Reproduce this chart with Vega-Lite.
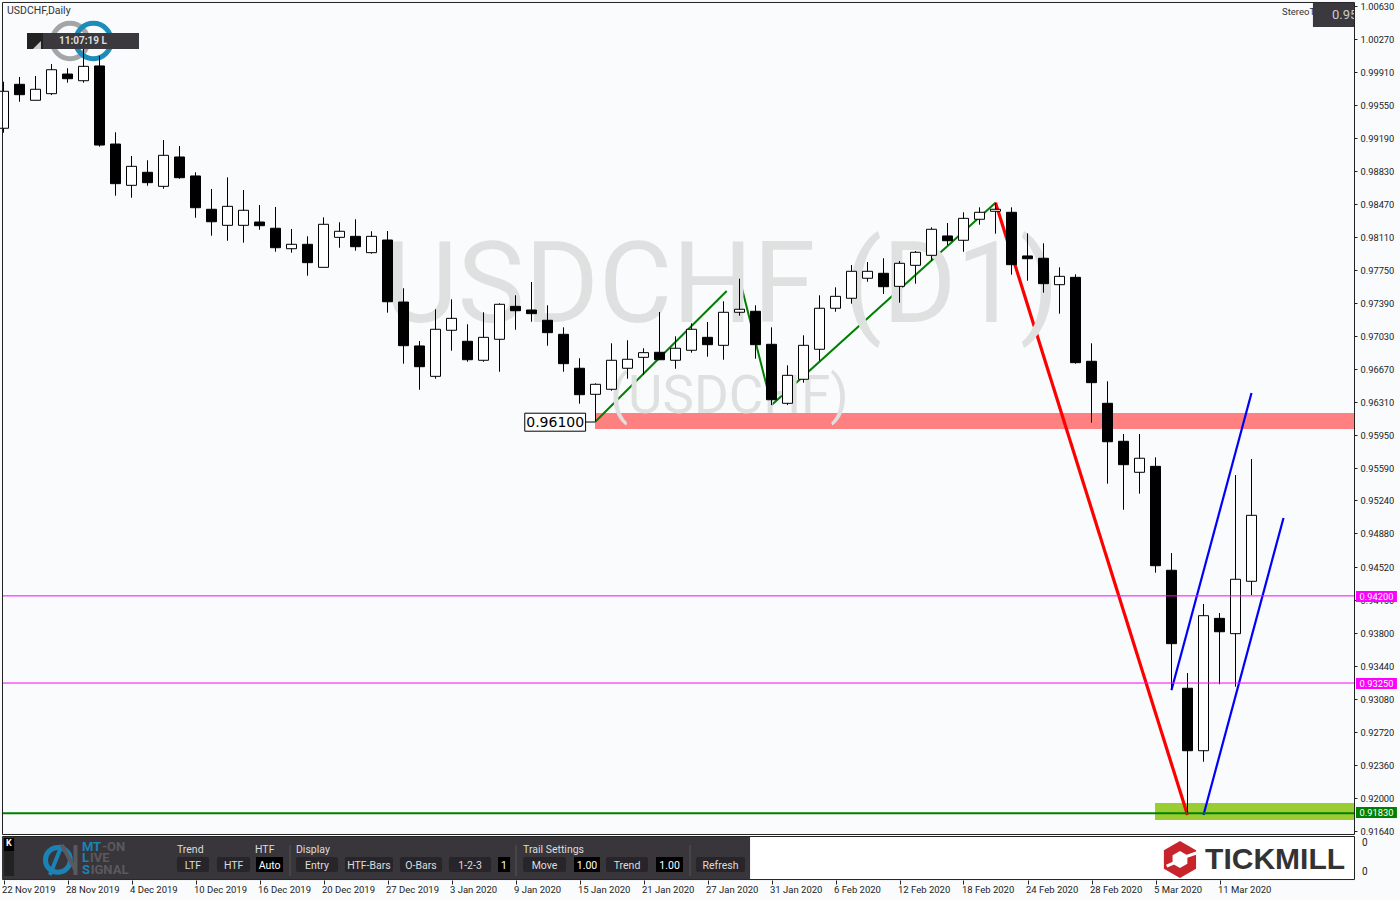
{"$schema":"https://vega.github.io/schema/vega-lite/v6.json","width":1400,"height":900,"padding":0,"autosize":{"type":"none"},"background":"#F9FBFD","config":{"view":{"stroke":null},"text":{"font":"Roboto"},"axis":{"title":null}},
"datasets":{"one":[{}],
"zones":[{"zone":"resistance","from":36.97,"to":84.41,"top":0.96193,"bottom":0.96019},{"zone":"support","from":71.97,"to":84.41,"top":0.91942,"bottom":0.91757}],
"swings":[{"leg":"g1","kind":"up","i":37,"price":0.961},{"leg":"g1","kind":"up","i":45.2,"price":0.97523},{"leg":"g2","kind":"up","i":46,"price":0.97657},{"leg":"g2","kind":"up","i":48,"price":0.9628},{"leg":"g2","kind":"up","i":62,"price":0.98486},{"leg":"r","kind":"down","i":62,"price":0.98486},{"leg":"r","kind":"down","i":74,"price":0.91812},{"leg":"b1","kind":"channel","i":73,"price":0.93174},{"leg":"b1","kind":"channel","i":78,"price":0.96411},{"leg":"b2","kind":"channel","i":75,"price":0.91812},{"leg":"b2","kind":"channel","i":80,"price":0.95049}],
"candles":[
{"i":0,"date":"2019-11-22","open":0.99297,"high":0.99804,"low":0.99249,"close":0.997},
{"i":1,"date":"2019-11-25","open":0.99776,"high":0.99856,"low":0.99586,"close":0.99663},
{"i":2,"date":"2019-11-26","open":0.99602,"high":0.99867,"low":0.99602,"close":0.99722},
{"i":3,"date":"2019-11-27","open":0.99674,"high":0.99997,"low":0.99659,"close":0.99935},
{"i":4,"date":"2019-11-28","open":0.99888,"high":0.99951,"low":0.99794,"close":0.99837},
{"i":5,"date":"2019-11-29","open":0.99815,"high":1.00204,"low":0.99794,"close":0.99972},
{"i":6,"date":"2019-12-02","open":0.99976,"high":1.00085,"low":0.99096,"close":0.99114},
{"i":7,"date":"2019-12-03","open":0.99125,"high":0.99253,"low":0.98562,"close":0.98693},
{"i":8,"date":"2019-12-04","open":0.98675,"high":0.98995,"low":0.9854,"close":0.98882},
{"i":9,"date":"2019-12-05","open":0.98817,"high":0.98948,"low":0.98671,"close":0.98704},
{"i":10,"date":"2019-12-06","open":0.98664,"high":0.99169,"low":0.98638,"close":0.99002},
{"i":11,"date":"2019-12-09","open":0.98984,"high":0.99104,"low":0.98747,"close":0.98758},
{"i":12,"date":"2019-12-10","open":0.98777,"high":0.98817,"low":0.98322,"close":0.98431},
{"i":13,"date":"2019-12-11","open":0.98414,"high":0.98635,"low":0.98126,"close":0.98278},
{"i":14,"date":"2019-12-12","open":0.98239,"high":0.98762,"low":0.98071,"close":0.98446},
{"i":15,"date":"2019-12-13","open":0.98239,"high":0.98624,"low":0.9805,"close":0.98403},
{"i":16,"date":"2019-12-16","open":0.98275,"high":0.9846,"low":0.98191,"close":0.98235},
{"i":17,"date":"2019-12-17","open":0.98207,"high":0.98439,"low":0.97951,"close":0.97995},
{"i":18,"date":"2019-12-18","open":0.97984,"high":0.98199,"low":0.97941,"close":0.98032},
{"i":19,"date":"2019-12-19","open":0.98032,"high":0.98119,"low":0.9769,"close":0.97832},
{"i":20,"date":"2019-12-20","open":0.97781,"high":0.98326,"low":0.97781,"close":0.9825},
{"i":21,"date":"2019-12-23","open":0.98108,"high":0.98272,"low":0.97995,"close":0.98174},
{"i":22,"date":"2019-12-24","open":0.98119,"high":0.98305,"low":0.97962,"close":0.98006},
{"i":23,"date":"2019-12-26","open":0.97941,"high":0.98174,"low":0.9793,"close":0.98119},
{"i":24,"date":"2019-12-27","open":0.98079,"high":0.98177,"low":0.97287,"close":0.97406},
{"i":25,"date":"2019-12-30","open":0.97403,"high":0.97553,"low":0.96731,"close":0.96927},
{"i":26,"date":"2019-12-31","open":0.96924,"high":0.96978,"low":0.96447,"close":0.96698},
{"i":27,"date":"2020-01-02","open":0.96593,"high":0.97324,"low":0.96567,"close":0.97106},
{"i":28,"date":"2020-01-03","open":0.97095,"high":0.97433,"low":0.96872,"close":0.97225},
{"i":29,"date":"2020-01-06","open":0.96975,"high":0.9716,"low":0.96752,"close":0.96774},
{"i":30,"date":"2020-01-07","open":0.96768,"high":0.97291,"low":0.96752,"close":0.97018},
{"i":31,"date":"2020-01-08","open":0.96997,"high":0.97389,"low":0.96643,"close":0.97378},
{"i":32,"date":"2020-01-09","open":0.97356,"high":0.97476,"low":0.97101,"close":0.97308},
{"i":33,"date":"2020-01-10","open":0.97316,"high":0.97621,"low":0.97188,"close":0.97276},
{"i":34,"date":"2020-01-13","open":0.97204,"high":0.97367,"low":0.96927,"close":0.97069},
{"i":35,"date":"2020-01-14","open":0.97051,"high":0.97127,"low":0.96643,"close":0.96731},
{"i":36,"date":"2020-01-15","open":0.96681,"high":0.9679,"low":0.96295,"close":0.96393},
{"i":37,"date":"2020-01-16","open":0.96397,"high":0.96517,"low":0.961,"close":0.96506},
{"i":38,"date":"2020-01-17","open":0.96452,"high":0.96953,"low":0.96436,"close":0.96768},
{"i":39,"date":"2020-01-20","open":0.96681,"high":0.96986,"low":0.96567,"close":0.96779},
{"i":40,"date":"2020-01-21","open":0.968,"high":0.96899,"low":0.96607,"close":0.96851},
{"i":41,"date":"2020-01-22","open":0.96855,"high":0.97294,"low":0.96771,"close":0.96774},
{"i":42,"date":"2020-01-23","open":0.96768,"high":0.97029,"low":0.96676,"close":0.96899},
{"i":43,"date":"2020-01-24","open":0.96877,"high":0.97171,"low":0.96851,"close":0.97106},
{"i":44,"date":"2020-01-27","open":0.97018,"high":0.97185,"low":0.96807,"close":0.96938},
{"i":45,"date":"2020-01-28","open":0.96931,"high":0.97411,"low":0.96774,"close":0.97291},
{"i":46,"date":"2020-01-29","open":0.97291,"high":0.97657,"low":0.97254,"close":0.97324},
{"i":47,"date":"2020-01-30","open":0.97302,"high":0.97367,"low":0.96785,"close":0.96938},
{"i":48,"date":"2020-01-31","open":0.96942,"high":0.97127,"low":0.9628,"close":0.96338},
{"i":49,"date":"2020-02-03","open":0.96299,"high":0.96713,"low":0.9628,"close":0.96604},
{"i":50,"date":"2020-02-04","open":0.96561,"high":0.9704,"low":0.96524,"close":0.96931},
{"i":51,"date":"2020-02-05","open":0.96888,"high":0.97476,"low":0.96763,"close":0.97335},
{"i":52,"date":"2020-02-06","open":0.97335,"high":0.97563,"low":0.97297,"close":0.97465},
{"i":53,"date":"2020-02-07","open":0.97444,"high":0.97806,"low":0.97385,"close":0.97738},
{"i":54,"date":"2020-02-10","open":0.97662,"high":0.97839,"low":0.97624,"close":0.97738},
{"i":55,"date":"2020-02-11","open":0.97716,"high":0.9788,"low":0.9749,"close":0.9757},
{"i":56,"date":"2020-02-12","open":0.97574,"high":0.9785,"low":0.97396,"close":0.97825},
{"i":57,"date":"2020-02-13","open":0.97803,"high":0.97959,"low":0.97603,"close":0.97945},
{"i":58,"date":"2020-02-14","open":0.97912,"high":0.98217,"low":0.97853,"close":0.98196},
{"i":59,"date":"2020-02-17","open":0.98123,"high":0.98264,"low":0.98024,"close":0.98071},
{"i":60,"date":"2020-02-18","open":0.98076,"high":0.98381,"low":0.97951,"close":0.98315},
{"i":61,"date":"2020-02-19","open":0.98305,"high":0.98435,"low":0.98246,"close":0.98381},
{"i":62,"date":"2020-02-20","open":0.98392,"high":0.98486,"low":0.98148,"close":0.98414},
{"i":63,"date":"2020-02-21","open":0.98381,"high":0.98435,"low":0.97701,"close":0.9781},
{"i":64,"date":"2020-02-24","open":0.97905,"high":0.98152,"low":0.97635,"close":0.97875},
{"i":65,"date":"2020-02-25","open":0.9788,"high":0.98043,"low":0.97505,"close":0.97603},
{"i":66,"date":"2020-02-26","open":0.97592,"high":0.97781,"low":0.97276,"close":0.97683},
{"i":67,"date":"2020-02-27","open":0.97672,"high":0.97705,"low":0.96731,"close":0.96742},
{"i":68,"date":"2020-02-28","open":0.96757,"high":0.96953,"low":0.96088,"close":0.96524},
{"i":69,"date":"2020-03-02","open":0.96299,"high":0.96539,"low":0.95423,"close":0.9588},
{"i":70,"date":"2020-03-03","open":0.95885,"high":0.95964,"low":0.95139,"close":0.9563},
{"i":71,"date":"2020-03-04","open":0.95547,"high":0.95964,"low":0.95314,"close":0.957},
{"i":72,"date":"2020-03-05","open":0.95612,"high":0.9571,"low":0.94453,"close":0.94529},
{"i":73,"date":"2020-03-06","open":0.94479,"high":0.94667,"low":0.93171,"close":0.93679},
{"i":74,"date":"2020-03-09","open":0.93193,"high":0.93359,"low":0.91825,"close":0.92512},
{"i":75,"date":"2020-03-10","open":0.92512,"high":0.94111,"low":0.92392,"close":0.93984},
{"i":76,"date":"2020-03-11","open":0.93955,"high":0.94013,"low":0.93236,"close":0.93809},
{"i":77,"date":"2020-03-12","open":0.93788,"high":0.95517,"low":0.9321,"close":0.94381},
{"i":78,"date":"2020-03-13","open":0.94359,"high":0.95692,"low":0.94209,"close":0.95078}
]},
"layer":[
{"data":{"name":"one"},"mark":{"type":"rect","fill":"#FFFFFF"},"encoding":{"x":{"datum":-0.06},"x2":{"datum":84.41},"y":{"datum":0.91577},"y2":{"datum":0.91108}}},
{"data":{"name":"one"},"mark":{"type":"point","shape":"circle","size":1257,"filled":false,"stroke":"#A3A5A7","strokeWidth":5,"opacity":1},"encoding":{"x":{"datum":4.16},"y":{"datum":1.00248}}},
{"data":{"name":"one"},"mark":{"type":"point","shape":"circle","size":1257,"filled":false,"stroke":"#1B8DB8","strokeWidth":5,"opacity":1},"encoding":{"x":{"datum":5.62},"y":{"datum":1.00248}}},
{"data":{"name":"zones"},"mark":{"type":"rect"},"encoding":{"x":{"field":"from","type":"quantitative"},"x2":{"field":"to"},"y":{"field":"top","type":"quantitative"},"y2":{"field":"bottom"},"color":{"field":"zone","type":"nominal","legend":null,"scale":{"domain":["resistance","support"],"range":["#FF8080","#9ACD32"]}}}},
{"data":{"name":"swings"},"mark":{"type":"line","interpolate":"linear"},"encoding":{"x":{"field":"i","type":"quantitative"},"y":{"field":"price","type":"quantitative"},"detail":{"field":"leg"},"stroke":{"field":"kind","type":"nominal","legend":null,"scale":{"domain":["up","down","channel"],"range":["#008000","#FF0000","#0000FF"]}},"strokeWidth":{"field":"kind","type":"nominal","legend":null,"scale":{"type":"ordinal","domain":["up","down","channel"],"range":[2,3.2,2.2]}}}},
{"data":{"name":"one"},"mark":{"type":"text","text":"USDCHF (D1)","font":"Roboto","fontSize":113,"align":"left","baseline":"alphabetic","fill":"#DFE1E1"},"encoding":{"x":{"datum":23.8},"y":{"datum":0.97185}}},
{"data":{"name":"one"},"mark":{"type":"text","text":"(USDCHF)","font":"Roboto","fontSize":53,"align":"left","baseline":"alphabetic","fill":"#DFE1E1"},"encoding":{"x":{"datum":37.9},"y":{"datum":0.96193}}},
{"data":{"name":"candles"},"mark":{"type":"rule","color":"#000","strokeWidth":1},"encoding":{
"x":{"field":"i","type":"quantitative","title":null,"scale":{"domain":[-0.21875,87.28125],"zero":false,"nice":false,"padding":0},"axis":{"title":null,"orient":"bottom","offset":-20,"domain":false,"grid":false,"tickCount":30,"values":[0,4,8,12,16,20,24,28,32,36,40,44,48,52,56,60,64,68,72,76],"labelExpr":"['22 Nov 2019','28 Nov 2019','4 Dec 2019','10 Dec 2019','16 Dec 2019','20 Dec 2019','27 Dec 2019','3 Jan 2020','9 Jan 2020','15 Jan 2020','21 Jan 2020','27 Jan 2020','31 Jan 2020','6 Feb 2020','12 Feb 2020','18 Feb 2020','24 Feb 2020','28 Feb 2020','5 Mar 2020','11 Mar 2020'][datum.value/4]","labelAlign":"left","labelOverlap":false,"labelFlush":false,"labelBound":false,"labelOffset":-2,"labelPadding":0,"tickSize":4,"tickColor":"#222","labelColor":"#222","labelFont":"Roboto","labelFontSize":9.5}},
"y":{"field":"high","type":"quantitative","title":null,"scale":{"domain":[0.90885,1.00695],"zero":false,"nice":false},"axis":{"title":null,"orient":"right","offset":-46,"domain":false,"grid":false,"format":".5f","tickCount":30,"values":[1.0063,1.0027,0.9991,0.9955,0.9919,0.9883,0.9847,0.9811,0.9775,0.9739,0.9703,0.9667,0.9631,0.9595,0.9559,0.9524,0.9488,0.9452,0.9416,0.938,0.9344,0.9308,0.9272,0.9236,0.92,0.9164],"labelOverlap":false,"labelFlush":false,"labelBound":false,"labelPadding":3,"labelOffset":0.5,"tickSize":3,"tickColor":"#222","labelColor":"#222","labelFont":"Roboto","labelFontSize":9.3}},"y2":{"field":"low"}}},
{"data":{"name":"candles"},"mark":{"type":"bar","orient":"vertical","size":10,"stroke":"#000","strokeWidth":1},"encoding":{"x":{"field":"i","type":"quantitative"},"y":{"field":"open","type":"quantitative"},"y2":{"field":"close"},"color":{"condition":{"test":"datum.close>=datum.open","value":"#FFFFFF"},"value":"#000000"}}},
{"data":{"name":"one"},"mark":{"type":"rule","color":"#FF00FF","strokeWidth":1},"encoding":{"x":{"datum":-0.06},"x2":{"datum":84.41},"y":{"datum":0.942}}},
{"data":{"name":"one"},"mark":{"type":"rule","color":"#FF00FF","strokeWidth":1},"encoding":{"x":{"datum":-0.06},"x2":{"datum":84.41},"y":{"datum":0.9325}}},
{"data":{"name":"one"},"mark":{"type":"rule","color":"#008000","strokeWidth":2},"encoding":{"x":{"datum":-0.06},"x2":{"datum":84.41},"y":{"datum":0.9183}}},
{"data":{"name":"one"},"mark":{"type":"rect","fill":"#FF00FF"},"encoding":{"x":{"datum":84.53},"x2":{"datum":87.09},"y":{"datum":0.94253},"y2":{"datum":0.94133}}},
{"data":{"name":"one"},"mark":{"type":"rect","fill":"#FF00FF"},"encoding":{"x":{"datum":84.53},"x2":{"datum":87.09},"y":{"datum":0.93305},"y2":{"datum":0.93185}}},
{"data":{"name":"one"},"mark":{"type":"rect","fill":"#008000"},"encoding":{"x":{"datum":84.53},"x2":{"datum":87.09},"y":{"datum":0.91899},"y2":{"datum":0.91779}}},
{"data":{"name":"one"},"mark":{"type":"text","text":"0.94200","fontSize":9.3,"fill":"#FFFFFF"},"encoding":{"x":{"datum":85.81},"y":{"datum":0.94186}}},
{"data":{"name":"one"},"mark":{"type":"text","text":"0.93250","fontSize":9.3,"fill":"#FFFFFF"},"encoding":{"x":{"datum":85.81},"y":{"datum":0.93238}}},
{"data":{"name":"one"},"mark":{"type":"text","text":"0.91830","fontSize":9.3,"fill":"#FFFFFF"},"encoding":{"x":{"datum":85.81},"y":{"datum":0.91832}}},
{"data":{"name":"one"},"mark":{"type":"rect","fill":"#FFFFFF","stroke":"#000","strokeWidth":1},"encoding":{"x":{"datum":32.58},"x2":{"datum":36.38},"y":{"datum":0.96191},"y2":{"datum":0.95995}}},
{"data":{"name":"one"},"mark":{"type":"rule","color":"#000"},"encoding":{"x":{"datum":36.38},"x2":{"datum":37},"y":{"datum":0.96095}}},
{"data":{"name":"one"},"mark":{"type":"text","text":"0.96100","font":"DejaVu Sans","fontSize":14,"fill":"#000"},"encoding":{"x":{"datum":34.48},"y":{"datum":0.96082}}},
{"data":{"name":"one"},"mark":{"type":"text","text":"USDCHF,Daily","fontSize":10.5,"align":"left","fill":"#333"},"encoding":{"x":{"datum":0.22},"y":{"datum":1.00575}}},
{"data":{"name":"one"},"mark":{"type":"rect","fill":"#3B383E"},"encoding":{"x":{"datum":1.47},"x2":{"datum":8.47},"y":{"datum":1.00335},"y2":{"datum":1.00161}}},
{"data":{"name":"one"},"mark":{"type":"rect","fill":"#222222"},"encoding":{"x":{"datum":1.47},"x2":{"datum":2.47},"y":{"datum":1.00335},"y2":{"datum":1.00161}}},
{"data":{"name":"one"},"mark":{"type":"point","shape":"M1,-1L1,1L-1,1Z","size":64,"filled":true,"fill":"#CCCCCC","opacity":1},"encoding":{"x":{"datum":2.09},"y":{"datum":1.00204}}},
{"data":{"name":"one"},"mark":{"type":"text","text":"11:07:19 L","fontSize":10,"fontWeight":"bold","fill":"#DDDDDD"},"encoding":{"x":{"datum":4.97},"y":{"datum":1.00248}}},
{"data":{"name":"one"},"mark":{"type":"text","text":"StereoT","fontSize":9.5,"align":"left","fill":"#333"},"encoding":{"x":{"datum":79.91},"y":{"datum":1.00564}}},
{"data":{"name":"one"},"mark":{"type":"rect","fill":"#3B383E"},"encoding":{"x":{"datum":81.84},"x2":{"datum":84.41},"y":{"datum":1.00662},"y2":{"datum":1.00401}}},
{"data":{"name":"one"},"mark":{"type":"text","text":"0.95","fontSize":13,"align":"left","fill":"#CCCCCC"},"encoding":{"x":{"datum":83.03},"y":{"datum":1.00531}}},
{"data":{"name":"one"},"mark":{"type":"rect","fill":"#F9FBFD"},"encoding":{"x":{"datum":84.41},"x2":{"datum":84.7},"y":{"datum":1.00608},"y2":{"datum":1.00423}}},
{"data":{"name":"one"},"mark":{"type":"rect","fill":null,"stroke":"#222222","strokeWidth":1},"encoding":{"x":{"datum":-0.0625},"x2":{"datum":84.4375},"y":{"datum":1.00668},"y2":{"datum":0.91599}}},
{"data":{"name":"one"},"mark":{"type":"rect","fill":null,"stroke":"#222222","strokeWidth":1},"encoding":{"x":{"datum":-0.0625},"x2":{"datum":84.4375},"y":{"datum":0.91577},"y2":{"datum":0.91108}}},
{"data":{"name":"one"},"mark":{"type":"rect","fill":"#38353B"},"encoding":{"x":{"datum":-0.09},"x2":{"datum":46.66},"y":{"datum":0.91572},"y2":{"datum":0.91114}}},
{"data":{"name":"one"},"mark":{"type":"rect","fill":"#222222"},"encoding":{"x":{"datum":0.03},"x2":{"datum":0.66},"y":{"datum":0.91419},"y2":{"datum":0.91147}}},
{"data":{"name":"one"},"mark":{"type":"rect","fill":"#000000"},"encoding":{"x":{"datum":0.03},"x2":{"datum":0.66},"y":{"datum":0.91561},"y2":{"datum":0.91419}}},
{"data":{"name":"one"},"mark":{"type":"text","text":"K","fontSize":9,"fontWeight":"bold","fill":"#FFFFFF"},"encoding":{"x":{"datum":0.34},"y":{"datum":0.91506}}},
{"data":{"name":"one"},"mark":{"type":"point","shape":"circle","size":616,"filled":false,"stroke":"#1B82B6","strokeWidth":5,"opacity":1},"encoding":{"x":{"datum":3.4},"y":{"datum":0.91322}}},
{"data":{"name":"one"},"mark":{"type":"rule","color":"#1B82B6","strokeWidth":4},"encoding":{"x":{"datum":2.9},"x2":{"datum":3.65},"y":{"datum":0.91157},"y2":{"datum":0.91484}}},
{"data":{"name":"one"},"mark":{"type":"rule","color":"#5A5A5E","strokeWidth":4},"encoding":{"x":{"datum":3.65},"x2":{"datum":4.5},"y":{"datum":0.91484},"y2":{"datum":0.91212}}},
{"data":{"name":"one"},"mark":{"type":"rule","color":"#5A5A5E","strokeWidth":4},"encoding":{"x":{"datum":4.5},"y":{"datum":0.91484},"y2":{"datum":0.91157}}},
{"data":{"name":"one"},"mark":{"type":"text","text":"MT","fontSize":13,"fontWeight":"bold","align":"left","fill":"#1B82B6"},"encoding":{"x":{"datum":4.9},"y":{"datum":0.91463}}},
{"data":{"name":"one"},"mark":{"type":"text","text":"-ON","fontSize":13,"fontWeight":"bold","align":"left","fill":"#5A5A5E"},"encoding":{"x":{"datum":6.15},"y":{"datum":0.91463}}},
{"data":{"name":"one"},"mark":{"type":"text","text":"L","fontSize":13,"fontWeight":"bold","align":"left","fill":"#1B82B6"},"encoding":{"x":{"datum":4.9},"y":{"datum":0.91343}}},
{"data":{"name":"one"},"mark":{"type":"text","text":"IVE","fontSize":13,"fontWeight":"bold","align":"left","fill":"#5A5A5E"},"encoding":{"x":{"datum":5.4},"y":{"datum":0.91343}}},
{"data":{"name":"one"},"mark":{"type":"text","text":"S","fontSize":13,"fontWeight":"bold","align":"left","fill":"#1B82B6"},"encoding":{"x":{"datum":4.9},"y":{"datum":0.91212}}},
{"data":{"name":"one"},"mark":{"type":"text","text":"IGNAL","fontSize":13,"fontWeight":"bold","align":"left","fill":"#5A5A5E"},"encoding":{"x":{"datum":5.45},"y":{"datum":0.91212}}},
{"data":{"name":"one"},"mark":{"type":"text","text":"Trend","fontSize":10.5,"align":"left","fill":"#DDDDDD"},"encoding":{"x":{"datum":10.84},"y":{"datum":0.9143}}},
{"data":{"name":"one"},"mark":{"type":"text","text":"HTF","fontSize":10.5,"align":"left","fill":"#DDDDDD"},"encoding":{"x":{"datum":15.72},"y":{"datum":0.9143}}},
{"data":{"name":"one"},"mark":{"type":"text","text":"Display","fontSize":10.5,"align":"left","fill":"#DDDDDD"},"encoding":{"x":{"datum":18.28},"y":{"datum":0.9143}}},
{"data":{"name":"one"},"mark":{"type":"text","text":"Trail Settings","fontSize":10.5,"align":"left","fill":"#DDDDDD"},"encoding":{"x":{"datum":32.47},"y":{"datum":0.9143}}},
{"data":{"name":"one"},"mark":{"type":"rule","color":"#555555"},"encoding":{"x":{"datum":17.91},"y":{"datum":0.91484},"y2":{"datum":0.91147}}},
{"data":{"name":"one"},"mark":{"type":"rule","color":"#555555"},"encoding":{"x":{"datum":32.03},"y":{"datum":0.91484},"y2":{"datum":0.91147}}},
{"data":{"name":"one"},"mark":{"type":"rule","color":"#555555"},"encoding":{"x":{"datum":42.91},"y":{"datum":0.91484},"y2":{"datum":0.91147}}},
{"data":{"name":"one"},"mark":{"type":"rect","fill":"#27252A","cornerRadius":2},"encoding":{"x":{"datum":10.84},"x2":{"datum":12.84},"y":{"datum":0.91354},"y2":{"datum":0.9119}}},
{"data":{"name":"one"},"mark":{"type":"rect","fill":"#27252A","cornerRadius":2},"encoding":{"x":{"datum":13.34},"x2":{"datum":15.41},"y":{"datum":0.91354},"y2":{"datum":0.9119}}},
{"data":{"name":"one"},"mark":{"type":"rect","fill":"#000000"},"encoding":{"x":{"datum":15.78},"x2":{"datum":17.47},"y":{"datum":0.91354},"y2":{"datum":0.9119}}},
{"data":{"name":"one"},"mark":{"type":"rect","fill":"#27252A","cornerRadius":2},"encoding":{"x":{"datum":18.28},"x2":{"datum":20.91},"y":{"datum":0.91354},"y2":{"datum":0.9119}}},
{"data":{"name":"one"},"mark":{"type":"rect","fill":"#27252A","cornerRadius":2},"encoding":{"x":{"datum":21.34},"x2":{"datum":24.34},"y":{"datum":0.91354},"y2":{"datum":0.9119}}},
{"data":{"name":"one"},"mark":{"type":"rect","fill":"#27252A","cornerRadius":2},"encoding":{"x":{"datum":24.78},"x2":{"datum":27.41},"y":{"datum":0.91354},"y2":{"datum":0.9119}}},
{"data":{"name":"one"},"mark":{"type":"rect","fill":"#27252A","cornerRadius":2},"encoding":{"x":{"datum":27.84},"x2":{"datum":30.47},"y":{"datum":0.91354},"y2":{"datum":0.9119}}},
{"data":{"name":"one"},"mark":{"type":"rect","fill":"#000000"},"encoding":{"x":{"datum":30.91},"x2":{"datum":31.66},"y":{"datum":0.91354},"y2":{"datum":0.9119}}},
{"data":{"name":"one"},"mark":{"type":"rect","fill":"#27252A","cornerRadius":2},"encoding":{"x":{"datum":32.47},"x2":{"datum":35.16},"y":{"datum":0.91354},"y2":{"datum":0.9119}}},
{"data":{"name":"one"},"mark":{"type":"rect","fill":"#000000"},"encoding":{"x":{"datum":35.66},"x2":{"datum":37.28},"y":{"datum":0.91354},"y2":{"datum":0.9119}}},
{"data":{"name":"one"},"mark":{"type":"rect","fill":"#27252A","cornerRadius":2},"encoding":{"x":{"datum":37.66},"x2":{"datum":40.28},"y":{"datum":0.91354},"y2":{"datum":0.9119}}},
{"data":{"name":"one"},"mark":{"type":"rect","fill":"#000000"},"encoding":{"x":{"datum":40.78},"x2":{"datum":42.47},"y":{"datum":0.91354},"y2":{"datum":0.9119}}},
{"data":{"name":"one"},"mark":{"type":"rect","fill":"#27252A","cornerRadius":2},"encoding":{"x":{"datum":43.28},"x2":{"datum":46.34},"y":{"datum":0.91354},"y2":{"datum":0.9119}}},
{"data":{"name":"one"},"mark":{"type":"text","text":"LTF","fontSize":10.5,"fill":"#DDDDDD"},"encoding":{"x":{"datum":11.84},"y":{"datum":0.91261}}},
{"data":{"name":"one"},"mark":{"type":"text","text":"HTF","fontSize":10.5,"fill":"#DDDDDD"},"encoding":{"x":{"datum":14.38},"y":{"datum":0.91261}}},
{"data":{"name":"one"},"mark":{"type":"text","text":"Auto","fontSize":10.5,"fill":"#FFFFFF"},"encoding":{"x":{"datum":16.63},"y":{"datum":0.91261}}},
{"data":{"name":"one"},"mark":{"type":"text","text":"Entry","fontSize":10.5,"fill":"#DDDDDD"},"encoding":{"x":{"datum":19.59},"y":{"datum":0.91261}}},
{"data":{"name":"one"},"mark":{"type":"text","text":"HTF-Bars","fontSize":10.5,"fill":"#DDDDDD"},"encoding":{"x":{"datum":22.84},"y":{"datum":0.91261}}},
{"data":{"name":"one"},"mark":{"type":"text","text":"O-Bars","fontSize":10.5,"fill":"#DDDDDD"},"encoding":{"x":{"datum":26.09},"y":{"datum":0.91261}}},
{"data":{"name":"one"},"mark":{"type":"text","text":"1-2-3","fontSize":10.5,"fill":"#DDDDDD"},"encoding":{"x":{"datum":29.16},"y":{"datum":0.91261}}},
{"data":{"name":"one"},"mark":{"type":"text","text":"1","fontSize":10.5,"fill":"#FFFFFF"},"encoding":{"x":{"datum":31.28},"y":{"datum":0.91261}}},
{"data":{"name":"one"},"mark":{"type":"text","text":"Move","fontSize":10.5,"fill":"#DDDDDD"},"encoding":{"x":{"datum":33.81},"y":{"datum":0.91261}}},
{"data":{"name":"one"},"mark":{"type":"text","text":"1.00","fontSize":10.5,"fill":"#FFFFFF"},"encoding":{"x":{"datum":36.47},"y":{"datum":0.91261}}},
{"data":{"name":"one"},"mark":{"type":"text","text":"Trend","fontSize":10.5,"fill":"#DDDDDD"},"encoding":{"x":{"datum":38.97},"y":{"datum":0.91261}}},
{"data":{"name":"one"},"mark":{"type":"text","text":"1.00","fontSize":10.5,"fill":"#FFFFFF"},"encoding":{"x":{"datum":41.63},"y":{"datum":0.91261}}},
{"data":{"name":"one"},"mark":{"type":"text","text":"Refresh","fontSize":10.5,"fill":"#DDDDDD"},"encoding":{"x":{"datum":44.81},"y":{"datum":0.91261}}},
{"data":{"name":"one"},"mark":{"type":"point","shape":"M0,-1L0.87,-0.5L0.87,0.5L0,1L-0.87,0.5L-0.87,-0.5Z","size":1369,"filled":true,"fill":"#C8242B","opacity":1},"encoding":{"x":{"datum":73.53},"y":{"datum":0.91326}}},
{"data":{"name":"one"},"mark":{"type":"point","shape":"M0,-1L0.87,-0.5L0.87,0.5L0,1L-0.87,0.5L-0.87,-0.5Z","size":289,"filled":true,"fill":"#FFFFFF","opacity":1},"encoding":{"x":{"datum":73.53},"y":{"datum":0.91326}}},
{"data":{"name":"one"},"mark":{"type":"rule","color":"#FFFFFF","strokeWidth":3},"encoding":{"x":{"datum":72.7},"x2":{"datum":73.4},"y":{"datum":0.91255},"y2":{"datum":0.9131}}},
{"data":{"name":"one"},"mark":{"type":"rule","color":"#FFFFFF","strokeWidth":3},"encoding":{"x":{"datum":73.65},"x2":{"datum":74.55},"y":{"datum":0.91342},"y2":{"datum":0.91397}}},
{"data":{"name":"one"},"mark":{"type":"text","text":"TICKMILL","font":"Liberation Sans","fontWeight":"bold","fontSize":30,"align":"left","fill":"#333333"},"encoding":{"x":{"datum":75.1},"y":{"datum":0.91326}}},
{"data":{"name":"one"},"mark":{"type":"text","text":"0","fontSize":10,"align":"left","fill":"#222"},"encoding":{"x":{"datum":84.9},"y":{"datum":0.91506}}},
{"data":{"name":"one"},"mark":{"type":"text","text":"0","fontSize":10,"align":"left","fill":"#222"},"encoding":{"x":{"datum":84.9},"y":{"datum":0.9119}}}
]}
